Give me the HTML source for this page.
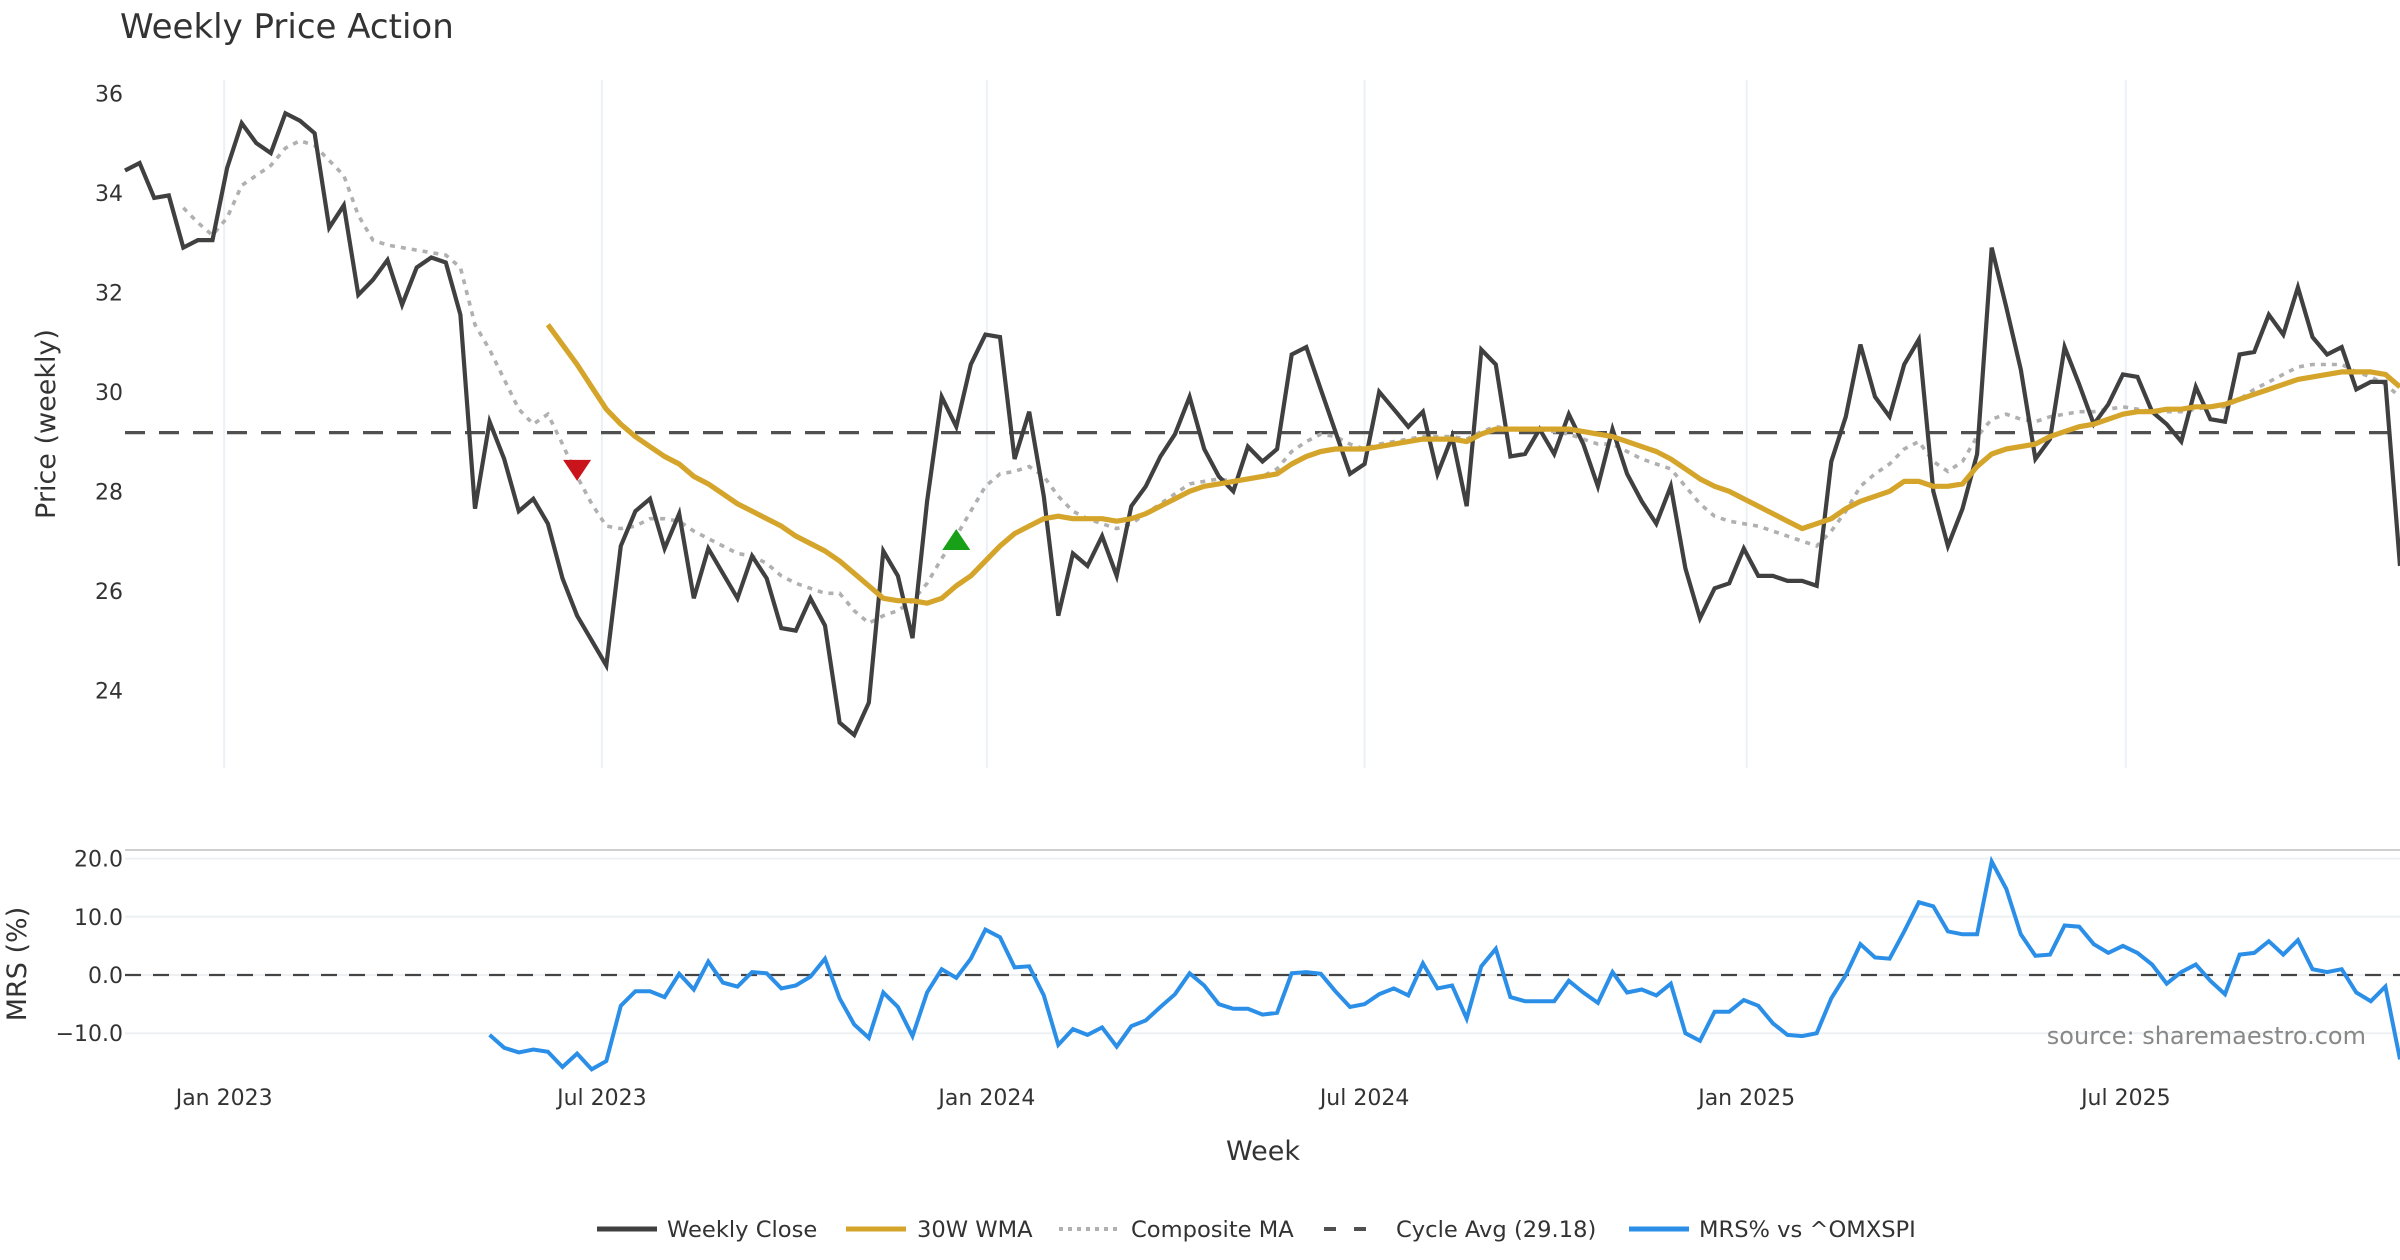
<!DOCTYPE html>
<html><head><meta charset="utf-8"><style>
html,body{margin:0;padding:0;background:#fff;}
svg{display:block;font-family:"DejaVu Sans","Liberation Sans",sans-serif;}
</style></head><body>
<svg id="chart" width="2400" height="1260" viewBox="0 0 2400 1260" xmlns="http://www.w3.org/2000/svg">
<text x="120" y="38" font-size="34" fill="#333">Weekly Price Action</text>
<g id="top-grid"></g>
<g id="bot-grid"></g>
<g id="series"></g>
<text transform="translate(55,424) rotate(-90)" text-anchor="middle" font-size="27" fill="#333">Price (weekly)</text>
<text transform="translate(26,964) rotate(-90)" text-anchor="middle" font-size="27" fill="#333">MRS (%)</text>
<text x="1263" y="1160" text-anchor="middle" font-size="27" fill="#333">Week</text>
<text x="2366" y="1044" text-anchor="end" font-size="24" fill="#888">source: sharemaestro.com</text>
<g id="legend"></g>
</svg>
<script>
const closeVals=[34.45,34.6,33.9,33.95,32.9,33.05,33.05,34.5,35.4,35.0,34.8,35.6,35.45,35.2,33.3,33.75,31.95,32.25,32.65,31.75,32.5,32.7,32.6,31.55,27.65,29.4,28.65,27.6,27.85,27.35,26.25,25.5,25.0,24.5,26.9,27.6,27.85,26.85,27.55,25.85,26.85,26.35,25.85,26.7,26.25,25.25,25.2,25.85,25.3,23.35,23.1,23.75,26.8,26.3,25.05,27.8,29.9,29.3,30.55,31.15,31.1,28.65,29.6,27.9,25.5,26.75,26.5,27.1,26.3,27.7,28.1,28.7,29.15,29.9,28.85,28.3,28.0,28.9,28.6,28.85,30.75,30.9,30.05,29.2,28.35,28.55,30.0,29.65,29.3,29.6,28.35,29.1,27.7,30.85,30.55,28.7,28.75,29.25,28.75,29.55,28.95,28.1,29.25,28.35,27.8,27.35,28.1,26.45,25.45,26.05,26.15,26.85,26.3,26.3,26.2,26.2,26.1,28.6,29.5,30.95,29.9,29.5,30.55,31.05,28.0,26.9,27.65,28.75,32.9,31.7,30.45,28.65,29.05,30.9,30.15,29.35,29.75,30.35,30.3,29.6,29.35,29.0,30.1,29.45,29.4,30.75,30.8,31.55,31.15,32.1,31.1,30.75,30.9,30.05,30.2,30.2,26.5];
const wmaStart=29;
const wmaVals=[31.35,30.95,30.55,30.1,29.65,29.35,29.1,28.9,28.7,28.55,28.3,28.15,27.95,27.75,27.6,27.45,27.3,27.1,26.95,26.8,26.6,26.35,26.1,25.85,25.8,25.8,25.75,25.85,26.1,26.3,26.6,26.9,27.15,27.3,27.45,27.5,27.45,27.45,27.45,27.4,27.45,27.55,27.7,27.85,28.0,28.1,28.15,28.2,28.25,28.3,28.35,28.55,28.7,28.8,28.85,28.85,28.85,28.9,28.95,29.0,29.05,29.05,29.05,29.0,29.15,29.25,29.25,29.25,29.25,29.25,29.25,29.2,29.15,29.1,29.0,28.9,28.8,28.65,28.45,28.25,28.1,28.0,27.85,27.7,27.55,27.4,27.25,27.35,27.45,27.65,27.8,27.9,28.0,28.2,28.2,28.1,28.1,28.15,28.5,28.75,28.85,28.9,28.95,29.1,29.2,29.3,29.35,29.45,29.55,29.6,29.6,29.65,29.65,29.7,29.7,29.75,29.85,29.95,30.05,30.15,30.25,30.3,30.35,30.4,30.4,30.4,30.35,30.1];
const compStart=4;
const compVals=[33.7,33.4,33.15,33.5,34.15,34.35,34.55,34.9,35.05,34.95,34.65,34.35,33.55,33.05,32.95,32.9,32.85,32.8,32.75,32.5,31.35,30.85,30.25,29.65,29.35,29.55,28.95,28.3,27.75,27.3,27.25,27.3,27.45,27.45,27.4,27.2,27.05,26.9,26.75,26.7,26.55,26.3,26.15,26.05,25.95,25.95,25.6,25.35,25.5,25.6,25.8,26.15,26.65,27.1,27.6,28.1,28.35,28.4,28.5,28.3,27.9,27.6,27.45,27.35,27.25,27.35,27.55,27.75,27.95,28.15,28.2,28.25,28.2,28.25,28.3,28.45,28.8,29.0,29.15,29.1,28.95,28.85,28.95,29.0,29.05,29.1,29.1,29.1,29.05,29.2,29.3,29.25,29.25,29.25,29.2,29.15,29.05,28.95,28.95,28.8,28.65,28.55,28.45,28.1,27.75,27.5,27.4,27.35,27.3,27.2,27.1,27.0,26.9,27.2,27.6,28.1,28.35,28.55,28.85,29.0,28.6,28.4,28.6,29.1,29.45,29.55,29.45,29.4,29.5,29.55,29.6,29.6,29.65,29.7,29.65,29.6,29.6,29.6,29.65,29.7,29.7,29.85,30.05,30.2,30.35,30.5,30.55,30.55,30.55,30.4,30.3,30.15,29.9];
const mrsStart=25;
const mrsVals=[-10.3,-12.5,-13.3,-12.8,-13.2,-15.8,-13.5,-16.2,-14.8,-5.3,-2.8,-2.8,-3.8,0.2,-2.5,2.3,-1.3,-2.0,0.5,0.3,-2.3,-1.8,-0.3,2.8,-4.0,-8.5,-10.8,-3.0,-5.5,-10.5,-3.0,1.0,-0.5,2.8,7.8,6.5,1.3,1.5,-3.5,-12.0,-9.3,-10.3,-9.0,-12.3,-8.8,-7.8,-5.5,-3.3,0.3,-1.8,-5.0,-5.8,-5.8,-6.8,-6.5,0.3,0.5,0.2,-2.8,-5.5,-5.0,-3.3,-2.3,-3.5,2.0,-2.3,-1.8,-7.5,1.5,4.5,-3.8,-4.5,-4.5,-4.5,-1.0,-3.0,-4.8,0.5,-3.0,-2.5,-3.5,-1.5,-10.0,-11.3,-6.3,-6.3,-4.3,-5.3,-8.3,-10.3,-10.5,-10.0,-4.0,0.0,5.3,3.0,2.8,7.5,12.5,11.8,7.5,7.0,7.0,19.5,14.8,7.0,3.3,3.5,8.5,8.3,5.3,3.8,5.0,3.8,1.8,-1.5,0.5,1.8,-1.0,-3.3,3.5,3.8,5.8,3.5,6.0,1.0,0.5,1.0,-3.0,-4.5,-2.0,-14.5];
const cycleAvg=29.18;
const priceTicks=[24,26,28,30,32,34,36];
const mrsTicks=[-10,0,10,20];
const mrsTickLabels=["\u221210.0","0.0","10.0","20.0"];
const monthTickIdx=[6.8,32.7,59.1,85.0,111.2,137.2];
const monthTickLabels=["Jan 2023","Jul 2023","Jan 2024","Jul 2024","Jan 2025","Jul 2025"];
const sellSignal={i:31,v:28.45};
const buySignal={i:57,v:27.0};

const NS="http://www.w3.org/2000/svg";
const X0=125,X1=2400,N=closeVals.length;
function xs(i){return X0+i*(X1-X0)/(N-1);}
function yp(v){return 93.4+(36-v)*49.74;}
function ym(v){return 975-v*5.82;}
function mk(tag,attrs,parent){const e=document.createElementNS(NS,tag);for(const k in attrs)e.setAttribute(k,attrs[k]);parent.appendChild(e);return e;}
const tg=document.getElementById('top-grid'),bg=document.getElementById('bot-grid'),sg=document.getElementById('series'),lg=document.getElementById('legend');

monthTickIdx.forEach((t,k)=>{
  const x=xs(t);
  const l=mk('line',{x1:x,x2:x,y1:80,y2:768,stroke:'#ecf1f6','stroke-width':2},tg);
  
  
  const tx=mk('text',{x:x,y:1105,'text-anchor':'middle','font-size':22,fill:'#333'},tg);
  tx.textContent=monthTickLabels[k];
  
  
});
priceTicks.forEach(v=>{
  const tx=mk('text',{x:123,y:yp(v)+8,'text-anchor':'end','font-size':22,fill:'#333'},tg);
  tx.textContent=String(v);
  
  
});
const sep=mk('line',{x1:125,x2:2400,y1:850,y2:850,stroke:'#cfcfcf','stroke-width':2},bg);


mrsTicks.forEach((v,k)=>{
  const g=mk('line',{x1:125,x2:2400,y1:ym(v),y2:ym(v),stroke:'#eef1f4','stroke-width':2},bg);
  
  
  const tx=mk('text',{x:123,y:ym(v)+8,'text-anchor':'end','font-size':22,fill:'#333'},bg);
  tx.textContent=mrsTickLabels[k];
  
  
});
const zl=mk('line',{x1:125,x2:2400,y1:ym(0),y2:ym(0),stroke:'#444','stroke-width':2.2,'stroke-dasharray':'16,12'},bg);



const ca=mk('line',{x1:125,x2:2400,y1:yp(cycleAvg),y2:yp(cycleAvg),stroke:'#505050','stroke-width':3.2,'stroke-dasharray':'20,14'},sg);



function pts(vals,start,yf){return vals.map((v,k)=>xs(start+k).toFixed(1)+','+yf(v).toFixed(1)).join(' ');}
const comp=mk('polyline',{points:pts(compVals,compStart,yp),fill:'none',stroke:'#b0b0b0','stroke-width':3.6,'stroke-dasharray':'5,6'},sg);


const cl=mk('polyline',{points:pts(closeVals,0,yp),fill:'none',stroke:'#404040','stroke-width':4.2,'stroke-linejoin':'miter'},sg);


const wm=mk('polyline',{points:pts(wmaVals,wmaStart,yp),fill:'none',stroke:'#d4a52a','stroke-width':5.2,'stroke-linejoin':'round'},sg);


const mr=mk('polyline',{points:pts(mrsVals,mrsStart,ym),fill:'none',stroke:'#2b8fe8','stroke-width':4},sg);



{const x=xs(sellSignal.i),y=yp(sellSignal.v);
const t=mk('polygon',{points:`${x-14},${y-9} ${x+14},${y-9} ${x},${y+12}`,fill:'#c8141a'},sg);

}
{const x=xs(buySignal.i),y=yp(buySignal.v);
const t=mk('polygon',{points:`${x-14},${y+9} ${x+14},${y+9} ${x},${y-12}`,fill:'#18a018'},sg);

}

const legendItems=[
 {x:597,tx:667,label:'Weekly Close',stroke:'#404040',dash:'',w:5},
 {x:846,tx:917,label:'30W WMA',stroke:'#d4a52a',dash:'',w:5},
 {x:1059,tx:1131,label:'Composite MA',stroke:'#b0b0b0',dash:'4,5',w:4},
 {x:1324,tx:1396,label:'Cycle Avg (29.18)',stroke:'#505050',dash:'12,18',w:4},
 {x:1629,tx:1699,label:'MRS% vs ^OMXSPI',stroke:'#2b8fe8',dash:'',w:5}];
legendItems.forEach(it=>{
  const g=mk('g',{},lg);
  
  
  const a={x1:it.x,x2:it.x+60,y1:1229,y2:1229,stroke:it.stroke,'stroke-width':it.w};
  if(it.dash)a['stroke-dasharray']=it.dash;
  mk('line',a,g);
  const t=mk('text',{x:it.tx,y:1237,'font-size':22.6,fill:'#333'},g);
  t.textContent=it.label;
});
</script>
</body></html>
